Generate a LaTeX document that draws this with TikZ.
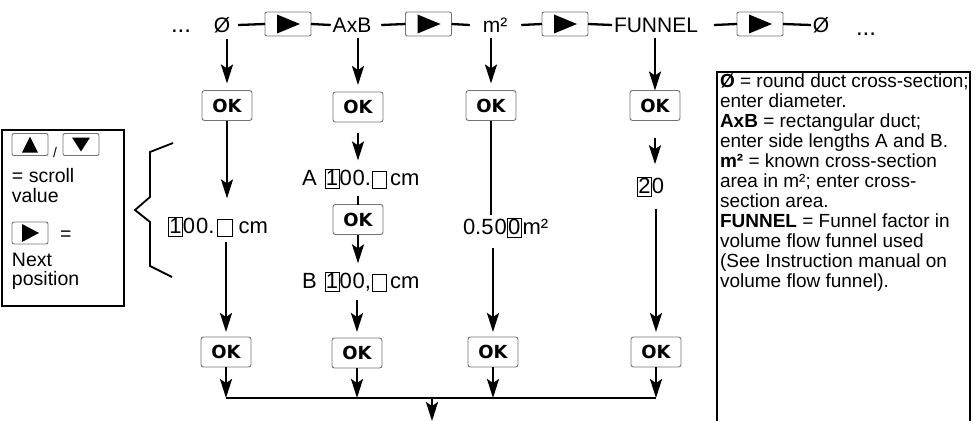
\documentclass[tikz,border=0pt]{standalone}
\usepackage{fontspec}
\setmainfont{Liberation Sans}
\newfontfamily\okfont{DejaVu Sans}
\usetikzlibrary{arrows.meta,calc}
\newcommand\dbx[1]{{\setlength\fboxsep{0.6pt}\setlength\fboxrule{0.7pt}\fbox{\rule[-1.5pt]{0pt}{15.5pt}#1}}}
\begin{document}
\begin{tikzpicture}[x=1pt,y=-1pt,
  every node/.style={inner sep=0pt, outer sep=0pt},
  conn/.style={line width=2.3pt, black},
  arr/.style={conn, -{Stealth[length=19pt,width=12pt,inset=4pt]}},
  okbox/.style={draw=black!55, line width=0.9pt, rounded corners=2.5pt, minimum width=50pt, minimum height=30pt, font=\okfont\fontsize{18}{18}\selectfont\bfseries},
  btnbox/.style={draw=black!55, line width=0.9pt, rounded corners=2pt, minimum width=46pt, minimum height=24pt},
  sbtn/.style={draw=black!55, line width=0.9pt, rounded corners=2pt, minimum width=36pt, minimum height=22pt},
  lbl/.style={font=\fontsize{21}{21}\selectfont},
  valtxt/.style={font=\fontsize{22}{22}\selectfont},
  lt/.style={font=\fontsize{19.5}{20}\selectfont},
  frame/.style={draw=black, line width=2.2pt},
]
\useasboundingbox (0,0) rectangle (976,420);

% ---------- top row ----------
\node[font=\fontsize{24}{24}\selectfont] (dotsL) at (181,31) {...};
\node[lbl] (phiA) at (222,25) {Ø};
\node[btnbox] (bA) at (288,24) {};
\node[lbl] (axb) at (352,25) {AxB};
\node[btnbox] (bB) at (428.5,24) {};
\node[lbl] (msq) at (495,25) {m²};
\node[btnbox] (bC) at (565,24) {};
\node[lbl] (fun) at (656,25) {FUNNEL};
\node[btnbox] (bD) at (760,24) {};
\node[lbl] (phiB) at (821,25) {Ø};
\node[font=\fontsize{24}{24}\selectfont] (dotsR) at (866,34) {...};
\foreach \b in {bA,bB,bC,bD}
  \fill ($(\b.center)+(-11,-9.5)$) -- ($(\b.center)+(12,0)$) -- ($(\b.center)+(-11,9.5)$) -- cycle;

\draw[conn] ([xshift=8pt]phiA.east) -- (bA.west);
\draw[conn] (bA.east) -- ([xshift=-2pt]axb.west);
\draw[conn] ([xshift=10pt]axb.east) -- (bB.west);
\draw[conn] (bB.east) -- ([xshift=-13pt]msq.west);
\draw[conn] ([xshift=14pt]msq.east) -- (bC.west);
\draw[conn] (bC.east) -- ([xshift=-2pt]fun.west);
\draw[conn] ([xshift=16pt]fun.east) -- (bD.west);
\draw[conn] (bD.east) -- ([xshift=-2pt]phiB.west);

% ---------- OK boxes ----------
\node[okbox] (ok1a) at (227,105.5) {OK};
\node[okbox] (ok2a) at (358,107) {OK};
\node[okbox] (ok3a) at (491,105.5) {OK};
\node[okbox] (ok4a) at (655,105.5) {OK};
\node[okbox] (okAB) at (358,219.5) {OK};
\node[okbox] (ok1b) at (226,352) {OK};
\node[okbox] (ok2b) at (357,353) {OK};
\node[okbox] (ok3b) at (493,352) {OK};
\node[okbox] (ok4b) at (656,352) {OK};

% ---------- values ----------
\node[valtxt, anchor=west] (val1) at (168,227) {\dbx{1}0\kern1pt0.\kern3pt\dbx{\hspace{12.5pt}}\kern6pt cm};
\node[valtxt, anchor=west] (valA) at (302,179) {A\kern8pt\dbx{1}0\kern1pt0.\kern1pt\dbx{\hspace{12.5pt}}\kern3pt cm};
\node[valtxt, anchor=west] (valB) at (302,282) {B\kern8pt\dbx{1}0\kern1pt0,\kern1pt\dbx{\hspace{12.5pt}}\kern3pt cm};
\node[valtxt, anchor=west] (val3) at (463,228) {0.5\kern1pt0\dbx{0}\kern1pt m²};
\node[valtxt, anchor=west] (val4) at (637,187) {\dbx{2}0};

% ---------- bus ----------
\coordinate (bus) at (432,398);
\coordinate (outp) at (432,421);

% column 1
\draw[arr, shorten <=6pt, shorten >=7pt] (ok1a |- phiA.south) -- (ok1a.north);
\draw[arr, shorten >=19pt] (ok1a.south) -- (ok1a |- val1.north);
\draw[arr, shorten <=5pt, shorten >=5pt] (ok1b |- val1.south) -- (ok1b.north);
\draw[arr] (ok1b.south) -- (ok1b |- bus);
% column 2
\draw[arr, shorten <=6pt, shorten >=7pt] (ok2a |- axb.south) -- (ok2a.north);
\draw[arr, shorten <=11pt, shorten >=9pt] (ok2a.south) -- (ok2a |- valA.north);
\draw[conn, shorten <=7pt] (ok2a |- valA.south) -- (okAB.north);
\draw[arr, shorten >=9pt] (okAB.south) -- (okAB |- valB.north);
\draw[arr, shorten <=8pt, shorten >=6pt] (ok2b |- valB.south) -- (ok2b.north);
\draw[arr] (ok2b.south) -- (ok2b |- bus);
% column 3
\draw[arr, shorten <=6pt, shorten >=7pt] (ok3a |- msq.south) -- (ok3a.north);
\draw[conn, shorten >=3pt] (ok3a.south) -- (ok3a |- val3.north);
\draw[arr, shorten <=10pt, shorten >=5pt] (ok3b |- val3.south) -- (ok3b.north);
\draw[arr] (ok3b.south) -- (ok3b |- bus);
% column 4
\draw[arr, shorten <=6pt] (ok4a |- fun.south) -- (ok4a.north);
\draw[arr, shorten <=17pt, shorten >=13pt] (ok4a.south) -- (ok4a |- val4.north);
\draw[arr, shorten <=12pt, shorten >=5pt] (ok4b |- val4.south) -- (ok4b.north);
\draw[arr] (ok4b.south) -- (ok4b |- bus);
% bus
\draw[conn] (ok1b |- bus) -- (ok4b |- bus);
\draw[arr] (bus) -- (outp);

% ---------- left legend ----------
\node[frame, minimum width=122pt, minimum height=176pt] (legL) at (63,218) {};
\node[sbtn] (upb) at (30,144.5) {};
\fill ($(upb.center)+(0,-8)$) -- ($(upb.center)+(8,8)$) -- ($(upb.center)+(-8,8)$) -- cycle;
\node[font=\fontsize{14}{14}\selectfont] (slash) at (55,152) {/};
\node[sbtn] (dnb) at (81,144.5) {};
\fill ($(dnb.center)+(0,7)$) -- ($(dnb.center)+(9,-7)$) -- ($(dnb.center)+(-9,-7)$) -- cycle;
\node[lt, anchor=base west] (t1) at (12,182) {= scroll};
\node[lt, anchor=base west] (t2) at (12,202) {value};
\node[sbtn] (nxb) at (30,233) {};
\fill ($(nxb.center)+(-8,-9)$) -- ($(nxb.center)+(9,0)$) -- ($(nxb.center)+(-8,9)$) -- cycle;
\node[lt, anchor=base west] (t3) at (60,240) {=};
\node[lt, anchor=base west] (t4) at (12,266) {Next};
\node[lt, anchor=base west] (t5) at (12,285) {position};

% brace
\draw[line width=1.8pt] (173,143) -- (150,152) -- (150,197) -- (135,210) -- (150,222) -- (150,266) -- (172,277);

% ---------- right legend ----------
\draw[frame] (717,425) -- (717,72) -- (970,72) -- (970,425);
\node[anchor=north west, align=left, font=\fontsize{19}{20}\selectfont] (legR) at (720,74)
 {\textbf{Ø} = round duct cross-section;\\
  enter diameter.\\
  \textbf{AxB} = rectangular duct;\\
  enter side lengths A and B.\\
  \textbf{m²} = known cross-section\\
  area in m²; enter cross-\\
  section area.\\
  \textbf{FUNNEL} = Funnel factor in\\
  volume flow funnel used\\
  (See Instruction manual on\\
  volume flow funnel).};
\end{tikzpicture}
\end{document}
